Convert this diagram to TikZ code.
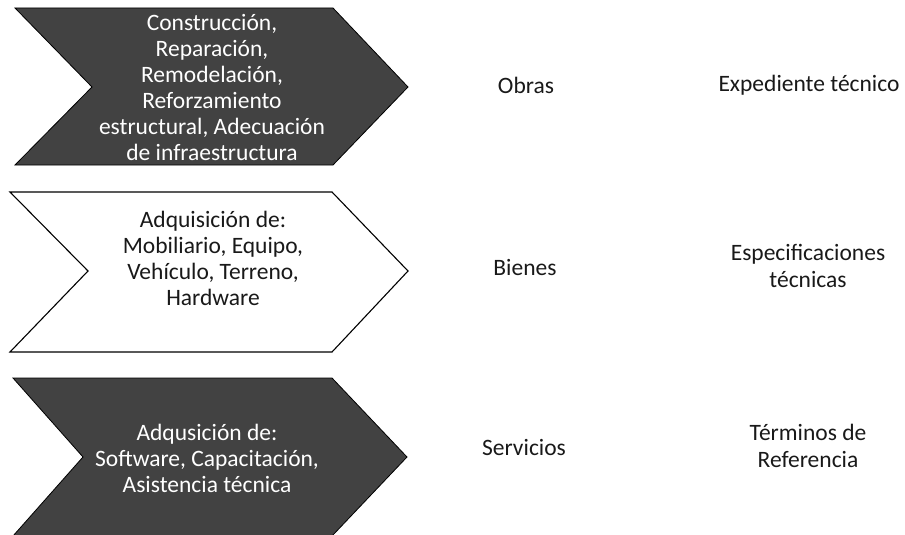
\documentclass[tikz,border=0pt]{standalone}
\usepackage{fontspec}
\setmainfont{Carlito}
\begin{document}
\begin{tikzpicture}[x=1pt,y=-1pt,
  darkchev/.style={fill=black!74,draw=black,line width=0.8pt,line join=miter},
  lightchev/.style={fill=white,draw=black,line width=1.1pt,line join=miter},
  chevtext/.style={align=center,font=\fontsize{23.5}{26}\selectfont,inner sep=0pt},
  coltext/.style={align=center,font=\fontsize{23.5}{27}\selectfont,inner sep=0pt,text=black!90}]
\useasboundingbox (0,0) rectangle (905,535);
% chevrons
\draw[darkchev] (15,8) -- (333,8) -- (408,87) -- (333,165) -- (15,165) -- (92,87) -- cycle;
\draw[lightchev] (10,192) -- (332,192) -- (408,271) -- (332,352) -- (10,352) -- (88,271) -- cycle;
\draw[darkchev] (13,378) -- (332,378) -- (407,457) -- (332,536) -- (13,536) -- (83,457) -- cycle;
% chevron texts
\node[chevtext,text=white] (obrasdesc) at (212,88) {Construcción,\\Reparación,\\Remodelación,\\Reforzamiento\\estructural, Adecuación\\de infraestructura};
\node[chevtext,text=black!90] (bienesdesc) at (213,258) {Adquisición de:\\Mobiliario, Equipo,\\Vehículo, Terreno,\\Hardware};
\node[chevtext,text=white] (servdesc) at (207,458) {Adqusición de:\\Software, Capacitación,\\Asistencia técnica};
% right columns
\node[coltext] (obras) at (526,85) {Obras};
\node[coltext] (bienes) at (525,267) {Bienes};
\node[coltext] (servicios) at (524,447) {Servicios};
\node[coltext] (exp) at (809,85) {Expediente técnico};
\node[coltext] (espec) at (808,266) {Especificaciones\\técnicas};
\node[coltext] (terminos) at (808,446) {Términos de\\Referencia};
\end{tikzpicture}
\end{document}
